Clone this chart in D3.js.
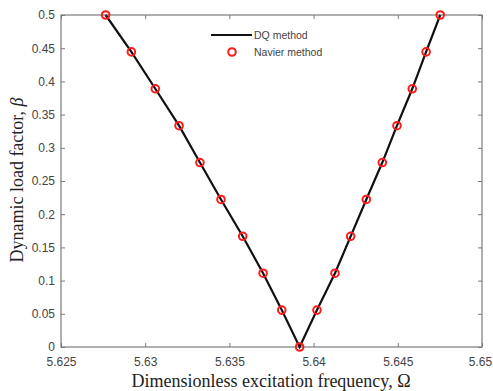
<!DOCTYPE html>
<html>
<head>
<meta charset="utf-8">
<script src="https://cdn.jsdelivr.net/npm/d3@7"></script>
<style>
  body { margin: 0; background: #fff; }
  svg { display: block; }
</style>
</head>
<body>
<div id="chart"></div>
<script>
// data
var freq = [5.62765, 5.62918, 5.6306, 5.63201, 5.63325, 5.6345, 5.63579, 5.637, 5.63811, 5.63917,
            5.6402, 5.64127, 5.6422, 5.64313, 5.64408, 5.64495, 5.64586, 5.64668, 5.64752];
var beta = [0.5, 0.4444, 0.3889, 0.3333, 0.2778, 0.2222, 0.1667, 0.1111, 0.0556, 0,
            0.0556, 0.1111, 0.1667, 0.2222, 0.2778, 0.3333, 0.3889, 0.4444, 0.5];
var xTicks = [5.625, 5.63, 5.635, 5.64, 5.645, 5.65];
var yTicks = [0, 0.05, 0.1, 0.15, 0.2, 0.25, 0.3, 0.35, 0.4, 0.45, 0.5];
var seriesNames = ["DQ method", "Navier method"];

var W = 493, H = 391;
var margin = {top: 15, right: 11, bottom: 44, left: 61},
    width = W - margin.left - margin.right,
    height = H - margin.top - margin.bottom;

var x = d3.scaleLinear().domain([5.625, 5.65]).range([0, width]);
var y = d3.scaleLinear().domain([0, 0.5]).range([height, 0]);

var svg = d3.select("#chart").append("svg")
    .attr("width", W)
    .attr("height", H);

var g = svg.append("g")
    .attr("transform", "translate(" + margin.left + "," + margin.top + ")");

var axisColor = "#7a7a7a";
var labelColor = "#444";

function styleAxis(sel, showLabels) {
  sel.select(".domain").remove();
  sel.selectAll(".tick line").attr("stroke", axisColor);
  sel.selectAll(".tick text")
     .attr("fill", labelColor)
     .style("font-family", "Arial, 'Liberation Sans', sans-serif")
     .style("font-size", "12px");
  if (!showLabels) sel.selectAll(".tick text").remove();
}

// bottom / top
var xb = g.append("g")
  .attr("transform", "translate(0," + height + ")")
  .call(d3.axisBottom(x).tickValues(xTicks).tickSize(-4).tickPadding(10).tickFormat(d3.format("")))
  .call(styleAxis, true);
// last label sits at the window edge, keep it inside
xb.selectAll(".tick text").filter(function(d) { return d === 5.65; }).attr("dx", "-2");
g.append("g")
  .call(d3.axisTop(x).tickValues(xTicks).tickSize(-4))
  .call(styleAxis, false);
// left / right
g.append("g")
  .call(d3.axisLeft(y).tickValues(yTicks).tickSize(-4).tickPadding(6).tickFormat(d3.format("")))
  .call(styleAxis, true);
g.append("g")
  .attr("transform", "translate(" + width + ",0)")
  .call(d3.axisRight(y).tickValues(yTicks).tickSize(-4))
  .call(styleAxis, false);

// box
g.append("rect")
  .attr("width", width).attr("height", height)
  .attr("fill", "none")
  .attr("stroke", axisColor)
  .attr("stroke-width", 1.2);

var pts = freq.map(function(f, i) { return {f: f, b: beta[i]}; });

g.append("path")
  .datum(pts)
  .attr("fill", "none")
  .attr("stroke", "#111")
  .attr("stroke-width", 2.2)
  .attr("d", d3.line().x(function(d) { return x(d.f); }).y(function(d) { return y(d.b); }));

g.selectAll(".pt")
  .data(pts)
  .enter().append("circle")
  .attr("class", "pt")
  .attr("cx", function(d) { return x(d.f); })
  .attr("cy", function(d) { return y(d.b); })
  .attr("r", 3.8)
  .attr("fill", "none")
  .attr("stroke", "#ff1a1a")
  .attr("stroke-width", 2);

// legend
var lg = svg.append("g").attr("transform", "translate(211,35)");
lg.append("line").attr("x1", 0).attr("x2", 41).attr("y1", 0).attr("y2", 0)
  .attr("stroke", "#111").attr("stroke-width", 2.2);
lg.append("circle").attr("cx", 21).attr("cy", 17).attr("r", 3.8)
  .attr("fill", "none").attr("stroke", "#ff1a1a").attr("stroke-width", 2);
lg.selectAll("text")
  .data(seriesNames)
  .enter().append("text")
  .attr("x", 43)
  .attr("y", function(d, i) { return i * 17 + 4; })
  .attr("fill", labelColor)
  .style("font-family", "Arial, 'Liberation Sans', sans-serif")
  .style("font-size", "10.5px")
  .text(function(d) { return d; });

// axis titles
svg.append("text")
  .attr("x", 271)
  .attr("y", 387)
  .attr("text-anchor", "middle")
  .attr("fill", "#222")
  .style("font-family", "'Liberation Serif', 'Times New Roman', serif")
  .style("font-size", "18px")
  .text("Dimensionless excitation frequency, \u03A9");

var yl = svg.append("text")
  .attr("transform", "translate(23,180) rotate(-90)")
  .attr("text-anchor", "middle")
  .attr("fill", "#222")
  .style("font-family", "'Liberation Serif', 'Times New Roman', serif")
  .style("font-size", "18px");
yl.append("tspan").text("Dynamic load factor, ");
yl.append("tspan").style("font-style", "italic").text("\u03B2");
</script>
</body>
</html>
